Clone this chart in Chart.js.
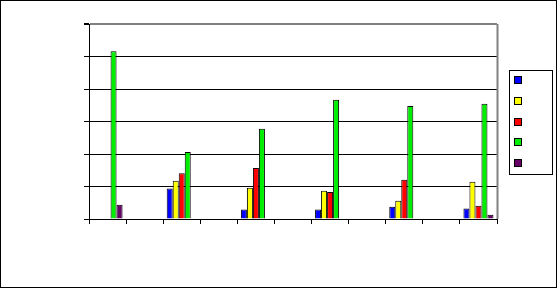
<!DOCTYPE html>
<html>
<head>
<meta charset="utf-8">
<script src="https://cdn.jsdelivr.net/npm/chart.js@4/dist/chart.umd.min.js"></script>
<style>
html,body{margin:0;padding:0;background:#fff;}
#wrap{position:relative;width:557px;height:288px;}
canvas{display:block;}
</style>
</head>
<body>
<div id="wrap"><canvas id="c" width="557" height="288"></canvas></div>
<script>
// 11 category slots; data only in every other slot (labels are blank in the reference)
const categories = ['', '', '', '', '', '', '', '', '', '', ''];
const seriesNames = ['', '', '', '', ''];
const blueVals   = [null, null, 0.94, null, 0.29, null, 0.29, null, 0.38, null, 0.32];
const yellowVals = [null, null, 1.18, null, 0.96, null, 0.87, null, 0.56, null, 1.15];
const redVals    = [null, null, 1.41, null, 1.57, null, 0.83, null, 1.21, null, 0.41];
const greenVals  = [5.16, null, 2.06, null, 2.78, null, 3.67, null, 3.48, null, 3.55];
const purpleVals = [0.44, null, null, null, null, null, null, null, null, null, 0.13];
const colors = ['#0000FF', '#FFFF00', '#FF0000', '#00EE00', '#660066'];
const yMax = 6;

const allVals = [blueVals, yellowVals, redVals, greenVals, purpleVals];

const frame = {
  id: 'frame',
  afterDraw(chart) {
    const ctx = chart.ctx, a = chart.chartArea;
    ctx.save();
    // right plot border (gray)
    ctx.strokeStyle = '#808080';
    ctx.lineWidth = 2;
    ctx.beginPath();
    ctx.moveTo(a.right + 0.5, a.top);
    ctx.lineTo(a.right + 0.5, a.bottom);
    ctx.stroke();
    // outer border
    ctx.strokeStyle = '#000';
    ctx.lineWidth = 1;
    ctx.strokeRect(0.5, 0.5, chart.width - 1, chart.height - 1);
    // legend box
    const lx = 509, ly = 70, lw = 43, lh = 104;
    ctx.fillStyle = '#fff';
    ctx.fillRect(lx, ly, lw, lh);
    ctx.strokeRect(lx + 0.5, ly + 0.5, lw, lh);
    chart.data.datasets.forEach((ds, i) => {
      const sy = 76 + i * 20.8;
      ctx.fillStyle = ds.backgroundColor;
      ctx.fillRect(514, Math.round(sy), 8, 8);
      ctx.strokeStyle = '#000';
      ctx.strokeRect(514.5, Math.round(sy) + 0.5, 7, 7);
    });
    ctx.restore();
  }
};

new Chart(document.getElementById('c'), {
  type: 'bar',
  data: {
    labels: categories,
    datasets: allVals.map((v, i) => ({
      label: seriesNames[i],
      data: v,
      backgroundColor: colors[i],
      borderColor: '#000',
      borderWidth: 1,
      borderSkipped: 'bottom',
      categoryPercentage: 0.81,
      barPercentage: 1.0
    }))
  },
  options: {
    responsive: false,
    animation: false,
    devicePixelRatio: 1,
    layout: { padding: { left: 0, right: 60, top: 24, bottom: 64 } },
    plugins: { legend: { display: false }, tooltip: { enabled: false } },
    scales: {
      x: {
        grid: { display: true, drawOnChartArea: false, drawTicks: true, tickLength: 5, color: '#000', offset: true },
        border: { display: true, color: '#000', width: 1 },
        ticks: { display: false },
        afterFit(s) { s.height = 5; }
      },
      y: {
        min: 0, max: yMax,
        ticks: { display: false, stepSize: 1 },
        grid: {
          display: true, drawTicks: true, tickLength: 5,
          color: (c) => (c.tick && c.tick.value === yMax) ? '#808080' : '#000',
          lineWidth: (c) => (c.tick && c.tick.value === yMax) ? 2 : 1,
          tickColor: '#000'
        },
        border: { display: true, color: '#000', width: 1 },
        afterFit(s) { s.width = 89; }
      }
    }
  },
  plugins: [frame]
});
</script>
</body>
</html>
